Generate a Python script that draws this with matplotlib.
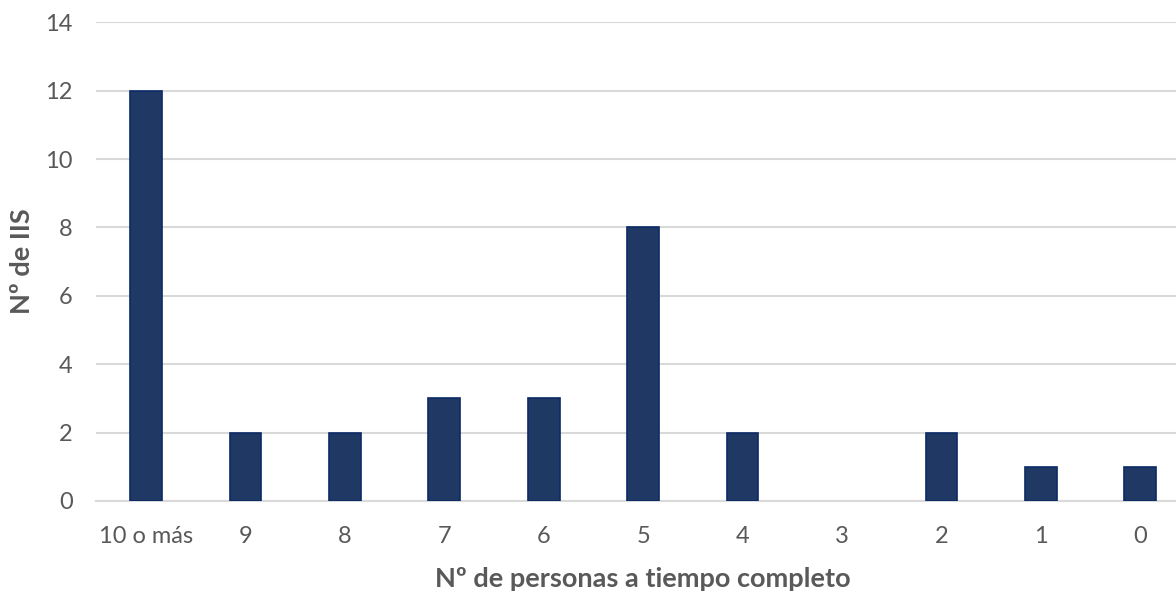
import matplotlib
matplotlib.use("Agg")
import matplotlib.pyplot as plt

categories = ["10 o más", "9", "8", "7", "6", "5", "4", "3", "2", "1", "0"]
counts = [12, 2, 2, 3, 3, 8, 2, 0, 2, 1, 1]
y_ticks = [0, 2, 4, 6, 8, 10, 12, 14]

plt.rcParams["font.family"] = ["Lato", "DejaVu Sans"]

W, H = 1176, 594
fig = plt.figure(figsize=(W / 100, H / 100), dpi=100)
ax = fig.add_axes([0.0819, 0.1566, 0.930, 0.806])

x = list(range(len(categories)))
edge_widths = [1.2 if v > 0 else 0 for v in counts]
ax.bar(x, counts, width=0.32, color="#1F3864", edgecolor="#0B2A66",
       linewidth=edge_widths, zorder=3)

ax.set_xlim(-0.5, len(categories) - 0.5)
ax.set_ylim(0, 14)
ax.set_yticks(y_ticks)
ax.set_xticks(x)
ax.set_xticklabels(categories)

ax.grid(axis="y", color="#D9D9D9", linewidth=1.5, zorder=0)
for s in ["top", "right", "left"]:
    ax.spines[s].set_visible(False)
ax.spines["bottom"].set_color("#D9D9D9")
ax.spines["bottom"].set_linewidth(1.5)
ax.spines["bottom"].set_zorder(1)

ax.tick_params(axis="both", length=0, labelsize=17, labelcolor="#595959")
ax.tick_params(axis="x", pad=18)
ax.tick_params(axis="y", pad=17)

# axis titles placed in figure coordinates
fig.text(0.5 * (96 + 1190) / W, 1 - 579 / H, "Nº de personas a tiempo completo",
         fontsize=19.5, fontweight="bold", color="#595959",
         ha="center", va="center")
fig.text(22 / W, 1 - 261 / H, "Nº de IIS", fontsize=19.5, fontweight="bold",
         color="#595959", ha="center", va="center", rotation=90)

fig.savefig("out.png", dpi=100)
